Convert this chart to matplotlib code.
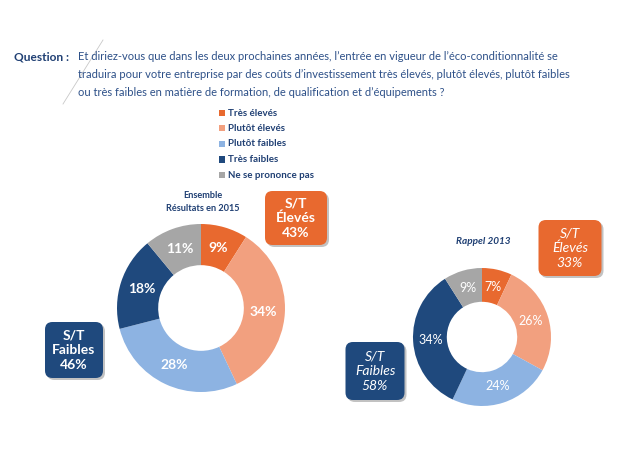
import matplotlib.pyplot as plt
from matplotlib.patches import FancyBboxPatch
from matplotlib.lines import Line2D

plt.rcParams['font.family'] = ['Lato', 'DejaVu Sans']

W, H = 620, 465

# data
categories = ["Très élevés", "Plutôt élevés", "Plutôt faibles", "Très faibles", "Ne se prononce pas"]
values_2015 = [9, 34, 28, 18, 11]
values_2013 = [7, 26, 24, 34, 9]
st_eleves = {"2015": 43, "2013": 33}
st_faibles = {"2015": 46, "2013": 58}

colors = ["#E8692F", "#F2A07F", "#8DB3E2", "#1F497D", "#A6A6A6"]
navy = "#1F3F73"
text_blue = "#2D5088"

fig = plt.figure(figsize=(6.2, 4.65), dpi=100)


def px_axes(cx, cy, r):
    # axes placed from pixel center/radius
    return fig.add_axes([(cx - r) / W, (H - cy - r) / H, 2 * r / W, 2 * r / H])


def donut(ax, vals, bold, fs):
    ax.pie(vals, colors=colors, startangle=90, counterclock=False,
           radius=1, wedgeprops=dict(width=0.49, edgecolor="none"),
           autopct=lambda p: f"{p:.0f}%", pctdistance=0.745,
           textprops=dict(color="white", fontsize=fs,
                          fontweight="bold" if bold else "normal"))
    ax.set_xlim(-1, 1)
    ax.set_ylim(-1, 1)
    ax.set_aspect("equal")
    ax.axis("off")


ax1 = px_axes(201, 308, 84)
donut(ax1, values_2015, True, 10)
ax2 = px_axes(482, 337, 69)
donut(ax2, values_2013, False, 9)


def box(cx, cy, w, h, color, lines, italic, bold):
    x0 = (cx - w / 2) / W
    y0 = (H - cy - h / 2) / H
    shadow = FancyBboxPatch((x0 + 2 / W, y0 - 2 / H), w / W, h / H,
                            boxstyle="round,pad=0,rounding_size=0.012",
                            transform=fig.transFigure, fc="#9A9A9A", ec="none",
                            alpha=0.6, mutation_aspect=W / H)
    p = FancyBboxPatch((x0, y0), w / W, h / H,
                       boxstyle="round,pad=0,rounding_size=0.012",
                       transform=fig.transFigure, fc=color, ec="none",
                       mutation_aspect=W / H)
    fig.add_artist(shadow)
    fig.add_artist(p)
    fig.text(cx / W, 1 - cy / H, "\n".join(lines), ha="center", va="center",
             color="white", fontsize=10, linespacing=1.25,
             fontstyle="italic" if italic else "normal",
             fontweight="bold" if bold else "normal")


box(296, 218, 62, 54, colors[0], ["S/T", "Élevés", f"{st_eleves['2015']}%"], False, True)
box(74, 350, 58, 56, colors[3], ["S/T", "Faibles", f"{st_faibles['2015']}%"], False, True)
box(570, 248, 63, 56, colors[0], ["S/T", "Élevés", f"{st_eleves['2013']}%"], True, False)
box(375, 371, 59, 58, colors[3], ["S/T", "Faibles", f"{st_faibles['2013']}%"], True, False)

# chart titles
fig.text(203 / W, 1 - 202 / H, "Ensemble\nRésultats en 2015", ha="center", va="center",
         color=navy, fontsize=6.6, fontweight="bold", linespacing=1.5)
fig.text(483 / W, 1 - 241 / H, "Rappel 2013", ha="center", va="center",
         color=navy, fontsize=7.2, fontweight="bold", fontstyle="italic")

# question
fig.text(14 / W, 1 - 57 / H, "Question :", ha="left", va="center",
         color=navy, fontsize=8.6, fontweight="bold")
question = ["Et diriez-vous que dans les deux prochaines années, l’entrée en vigueur de l’éco-conditionnalité se",
            "traduira pour votre entreprise par des coûts d’investissement très élevés, plutôt élevés, plutôt faibles",
            "ou très faibles en matière de formation, de qualification et d’équipements ?"]
for i, line in enumerate(question):
    fig.text(78 / W, 1 - (57 + 18 * i) / H, line, ha="left", va="center",
             color=text_blue, fontsize=8.05)

# legend
for i, (c, lab) in enumerate(zip(colors, categories)):
    y = 113 + 15.5 * i
    fig.patches.append(FancyBboxPatch((219 / W, 1 - (y + 3) / H), 6 / W, 6 / H,
                                      boxstyle="square,pad=0", transform=fig.transFigure,
                                      fc=c, ec="none"))
    fig.text(228 / W, 1 - y / H, lab, ha="left", va="center",
             color=navy, fontsize=7, fontweight="bold")

# faint decorative stroke
fig.add_artist(Line2D([103 / W, 63 / W], [1 - 40 / H, 1 - 104 / H],
                      transform=fig.transFigure, color="#C8C8C8", lw=0.6))

fig.savefig("out.png", dpi=100, facecolor="white")
